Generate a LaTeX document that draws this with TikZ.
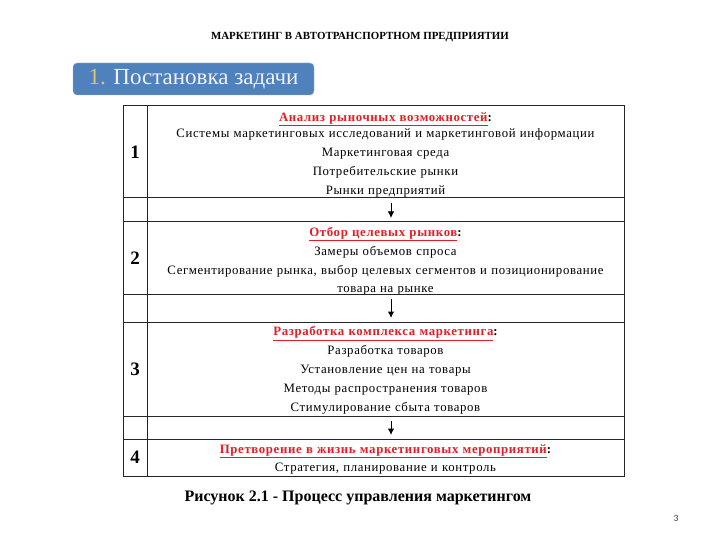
\documentclass[tikz,border=0pt]{standalone}
\usepackage{fontspec}
\setmainfont{Liberation Serif}
\newfontfamily\pagefont{Carlito}
\newfontfamily\cellfont[LetterSpace=5]{Liberation Serif}
\usetikzlibrary{arrows.meta}
\definecolor{headred}{RGB}{226,30,38}
\definecolor{boxblue}{RGB}{79,129,189}
\definecolor{numgold}{RGB}{226,196,100}
\newcommand\hd[1]{{\bfseries\textcolor{headred}{\underline{#1}}:}}
\tikzset{
  grid/.style={draw=black!85,line width=1pt,outer sep=0pt,inner sep=0pt},
  cell/.style={grid,minimum width=477pt,anchor=north west},
  body/.style={text width=470pt,align=center,inner sep=0pt,
    font=\cellfont\fontsize{12.8}{19}\selectfont},
  numcell/.style={grid,minimum width=24pt,anchor=north east,
    font=\fontsize{19}{19}\selectfont\bfseries},
  arr/.style={-{Latex[length=6.5pt,width=6.5pt]},line width=1pt},
  taskbox/.style={fill=boxblue,draw=boxblue!50!gray!60,rounded corners=4pt,
    minimum width=241pt,minimum height=32pt,inner sep=0pt,
    font=\fontsize{23}{23}\selectfont,text=white!94!blue}
}
\begin{document}
\begin{tikzpicture}[x=1pt,y=-1pt]
\useasboundingbox[fill=white] (0,0) rectangle (720,540);
\node[font=\fontsize{10.9}{10.9}\selectfont\bfseries] (ttl) at (360,37) {МАРКЕТИНГ В АВТОТРАНСПОРТНОМ ПРЕДПРИЯТИИ};
\node[taskbox] (task) at (193.5,79) {\textcolor{numgold}{1.} Постановка задачи};
\node[cell,minimum height=92pt,label={[body,yshift=-3pt]center:{\hd{Анализ рыночных возможностей}\\[-3pt]
   Системы маркетинговых исследований и маркетинговой информации\\
   Маркетинговая среда\\ Потребительские рынки\\ Рынки предприятий}}] (r1) at (147,106) {};
\node[cell,minimum height=24pt] (s1) at (r1.south west) {};
\node[cell,minimum height=72pt,label={[body,yshift=-3pt]center:{\hd{Отбор целевых рынков}\\ Замеры объемов спроса\\
   Сегментирование рынка, выбор целевых сегментов и позиционирование\\[-1pt]
   товара на рынке}}] (r2) at (s1.south west) {};
\node[cell,minimum height=28pt] (s2) at (r2.south west) {};
\node[cell,minimum height=94pt,label={[body,yshift=-1.5pt]center:{\hd{Разработка комплекса маркетинга}\\ Разработка товаров\\
   Установление цен на товары\\ Методы распространения товаров\\
   Стимулирование сбыта товаров}}] (r3) at (s2.south west) {};
\node[cell,minimum height=23pt] (s3) at (r3.south west) {};
\node[cell,minimum height=37pt,label={[body,yshift=-2pt]center:{\hd{Претворение в жизнь маркетинговых мероприятий}\\[-1pt]
   Стратегия, планирование и контроль}}] (r4) at (s3.south west) {};
\node[numcell,minimum height=92pt] (n1) at (r1.north west) {1};
\node[numcell,minimum height=24pt] (m1) at (s1.north west) {};
\node[numcell,minimum height=72pt] (n2) at (r2.north west) {2};
\node[numcell,minimum height=28pt] (m2) at (s2.north west) {};
\node[numcell,minimum height=94pt] (n3) at (r3.north west) {3};
\node[numcell,minimum height=23pt] (m3) at (s3.north west) {};
\node[numcell,minimum height=37pt] (n4) at (r4.north west) {4};
\foreach \s in {s1,s2,s3}{
  \coordinate (\s a) at ([xshift=5.5pt,yshift=-5pt]\s.north);
  \coordinate (\s b) at ([xshift=5.5pt,yshift=4pt]\s.south);
  \draw[arr] (\s a) -- (\s b);
}
\node[font=\fontsize{16}{16}\selectfont\bfseries] (cap) at (358,498) {Рисунок 2.1 - Процесс управления маркетингом};
\node[font=\pagefont\fontsize{9.5}{9.5}\selectfont,text=black!75] (pg) at (676,518) {3};
\end{tikzpicture}
\end{document}
